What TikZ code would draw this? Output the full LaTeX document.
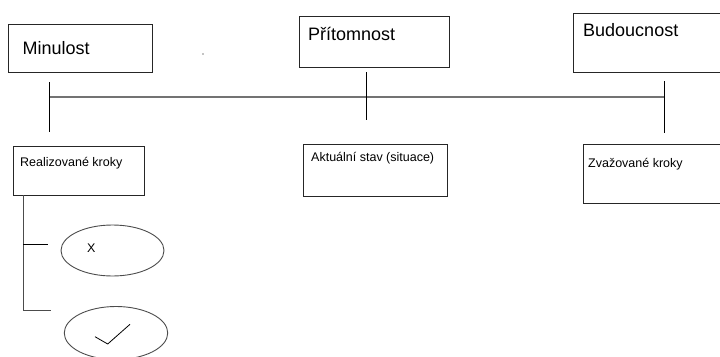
\documentclass[tikz,border=0pt]{standalone}
\usepackage{fontspec}
\setmainfont{Liberation Sans}
\usetikzlibrary{shapes.geometric,positioning}

\begin{document}
\begin{tikzpicture}[x=1pt, y=-1pt,
        box/.style={draw=black!85, line width=1pt, anchor=north west, inner sep=0pt},
        oval/.style={draw=black!70, line width=0.9pt, ellipse, inner sep=0pt},
        big/.style={font=\fontsize{18}{20}\selectfont, anchor=base west, inner sep=0pt},
        small/.style={font=\fontsize{12.5}{14}\selectfont, anchor=base west, inner sep=0pt},
        axis/.style={draw=black!55, line width=2pt},
        tick/.style={draw=black, line width=0.9pt}
        ]
        \useasboundingbox (0,0) rectangle (720,356);
        \node[box, minimum width=144, minimum height=48] (min) at (8,24) {};
        \node[box, minimum width=150, minimum height=51] (pri) at (299,16) {};
        \node[box, minimum width=150, minimum height=59] (bud) at (573,13) {};
        \node[big] (minT) at (22.5,54) {Minulost};
        \node[big] (priT) at (308,40) {Přítomnost};
        \node[big] (budT) at (583,36.5) {Budoucnost};
        \node[box, minimum width=131, minimum height=49] (real) at (13,146) {};
        \node[box, minimum width=144, minimum height=52] (akt) at (303,143.5) {};
        \node[box, minimum width=140, minimum height=59] (zva) at (583,144) {};
        \node[small] (realT) at (20,166) {Realizované kroky};
        \node[small] (aktT) at (311,161.5) {Aktuální stav (situace)};
        \node[small] (zvaT) at (588,167) {Zvažované kroky};
        \node[oval, minimum width=103, minimum height=51] (no) at (112.5,250.5) {};
        \node[oval, minimum width=103.5, minimum height=53] (yes) at (116,333) {};
        \node[small] (x) at (87,252.5) {X};
        \coordinate (a) at (50,97);
        \coordinate (b) at (664,97);
        \coordinate (m1) at (49.5,82);
        \coordinate (m2) at (49.5,132);
        \coordinate (p1) at (366,72);
        \coordinate (p2) at (366,120);
        \coordinate (b1) at (664,81);
        \coordinate (b2) at (664,133);
        \coordinate (r1) at (23,195);
        \coordinate (r2) at (23,310);
        \coordinate (r3) at (23,244);
        \coordinate (n1) at (48,244);
        \coordinate (y1) at (51,310);
        \draw[axis] (a) -- (b);
        \draw[tick] (m1) -- (m2);
        \draw[tick] (p1) -- (p2);
        \draw[tick] (b1) -- (b2);
        \draw[draw=black!70, line width=1pt] (r1) -- (r2) -- (y1);
        \draw[tick] (r3) -- (n1);
        \draw[line width=0.8pt] ([shift={(-21,3.7)}]yes.center) -- ([shift={(-8.3,11)}]yes.center) -- ([shift={(14,-8.7)}]yes.center);
        \fill (203,54) circle (0.6);
      \end{tikzpicture}
\end{document}
